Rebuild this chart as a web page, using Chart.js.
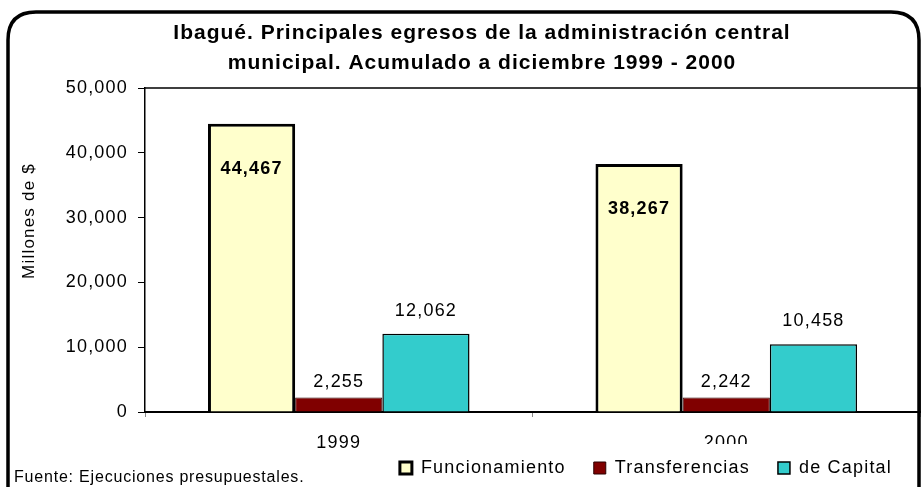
<!DOCTYPE html>
<html>
<head>
<meta charset="utf-8">
<script src="https://cdn.jsdelivr.net/npm/chart.js@4.4.1/dist/chart.umd.min.js"></script>
<style>
  html, body { margin: 0; padding: 0; background: #fff; }
</style>
</head>
<body>
<canvas id="chart" width="921" height="487"></canvas>
<script>
// chart data
const years = ['1999', '2000'];
const funcionamiento = [44467, 38267];
const transferencias = [2255, 2242];
const deCapital = [12062, 10458];
const seriesNames = ['Funcionamiento', 'Transferencias', 'de Capital'];
const yTicks = [0, 10000, 20000, 30000, 40000, 50000];
const titleLines = ['Ibagué. Principales egresos de la administración central', 'municipal. Acumulado a diciembre 1999 - 2000'];
const yTitle = 'Millones de $';
const sourceText = 'Fuente: Ejecuciones presupuestales.';

const FONT = 'Arial, "Liberation Sans", sans-serif';
const SPACING = '1.2px';
const fmt = v => v.toLocaleString('en-US');

// frame, title, plot border, value labels, source note
const decorations = {
    id: 'decorations',
    // canvas resizing resets the context, so set the spacing before measuring
    beforeUpdate(chart) {
        chart.ctx.letterSpacing = SPACING;
    },
    beforeLayout(chart) {
        chart.ctx.letterSpacing = SPACING;
    },
    beforeDraw(chart) {
        const ctx = chart.ctx;
        ctx.letterSpacing = SPACING;
        ctx.save();
        ctx.fillStyle = '#fff';
        ctx.fillRect(0, 0, chart.width, chart.height);
        ctx.restore();
    },
    afterDatasetsDraw(chart) {
        const ctx = chart.ctx;
        const area = chart.chartArea;
        ctx.save();
        // top and right edges of the plot box
        ctx.strokeStyle = '#000';
        ctx.lineWidth = 1.5;
        ctx.beginPath();
        ctx.moveTo(area.left, area.top);
        ctx.lineTo(area.right, area.top);
        ctx.lineTo(area.right, area.bottom);
        ctx.stroke();

        // value labels
        ctx.fillStyle = '#000';
        ctx.textAlign = 'center';
        ctx.textBaseline = 'middle';
        chart.data.datasets.forEach((ds, i) => {
            const meta = chart.getDatasetMeta(i);
            meta.data.forEach((bar, j) => {
                const text = fmt(ds.data[j]);
                if (i === 0) {
                    ctx.font = 'bold 18px ' + FONT;
                    ctx.fillText(text, bar.x, bar.y + 45);
                } else {
                    ctx.font = '18px ' + FONT;
                    ctx.fillText(text, bar.x, bar.y - (i === 1 ? 15 : 23));
                }
            });
        });

        // y axis title
        ctx.font = '17px ' + FONT;
        ctx.translate(29, 221);
        ctx.rotate(-Math.PI / 2);
        ctx.fillText(yTitle, 0, 0);
        ctx.restore();
    },
    afterDraw(chart) {
        const ctx = chart.ctx;
        ctx.save();
        // legend sits on a white box that hides the lower part of the axis labels
        ctx.fillStyle = '#fff';
        ctx.fillRect(380, 444, 538, 43);
        ctx.restore();
        chart.legend.draw();

        ctx.save();
        // title
        ctx.fillStyle = '#000';
        ctx.letterSpacing = '1px';
        ctx.font = 'bold 21px ' + FONT;
        ctx.textAlign = 'center';
        ctx.textBaseline = 'middle';
        ctx.fillText(titleLines[0], 482, 33);
        ctx.fillText(titleLines[1], 482, 63);

        // source note
        ctx.letterSpacing = '0.8px';
        ctx.font = '16px ' + FONT;
        ctx.textAlign = 'left';
        ctx.fillText(sourceText, 14, 478);

        // rounded frame, open at the bottom
        ctx.strokeStyle = '#000';
        ctx.lineWidth = 3.5;
        const l = 8, t = 12, r = 919, b = 540, rad = 28;
        ctx.beginPath();
        ctx.moveTo(l, b);
        ctx.lineTo(l, t + rad);
        ctx.quadraticCurveTo(l, t, l + rad, t);
        ctx.lineTo(r - rad, t);
        ctx.quadraticCurveTo(r, t, r, t + rad);
        ctx.lineTo(r, b);
        ctx.stroke();
        ctx.restore();
    }
};

new Chart(document.getElementById('chart'), {
    type: 'bar',
    data: {
        labels: years,
        datasets: [
            {
                label: seriesNames[0],
                data: funcionamiento,
                backgroundColor: '#FFFFCC',
                borderColor: '#000',
                borderWidth: 3
            },
            {
                label: seriesNames[1],
                data: transferencias,
                backgroundColor: '#800000',
                borderColor: '#2a0000',
                borderWidth: 1
            },
            {
                label: seriesNames[2],
                data: deCapital,
                backgroundColor: '#33CCCC',
                borderColor: '#000',
                borderWidth: 1.5
            }
        ]
    },
    options: {
        responsive: false,
        animation: false,
        devicePixelRatio: 1,
        categoryPercentage: 0.675,
        barPercentage: 1,
        layout: { padding: { top: 88, left: 10, right: 1, bottom: 0 } },
        plugins: {
            legend: {
                position: 'bottom',
                align: 'end',
                labels: {
                    boxWidth: 12,
                    boxHeight: 12,
                    padding: 28,
                    color: '#000',
                    font: { family: FONT, size: 18 }
                }
            },
            title: { display: false },
            tooltip: { enabled: false }
        },
        scales: {
            x: {
                grid: {
                    offset: true,
                    drawOnChartArea: false,
                    tickLength: 5,
                    color: '#888'
                },
                border: { color: '#000', width: 2 },
                ticks: {
                    color: '#000',
                    padding: 15,
                    autoSkip: false,
                    maxRotation: 0,
                    font: { family: FONT, size: 18 }
                },
                afterFit(scale) {
                    scale.height = 19;
                    // labels hang below the short axis box, so don't clip them to it
                    scale._computeLabelArea = () => undefined;
                }
            },
            y: {
                min: 0,
                max: 50000,
                afterBuildTicks(scale) { scale.ticks = yTicks.map(v => ({ value: v })); },
                grid: {
                    drawOnChartArea: false,
                    tickLength: 7,
                    color: '#000'
                },
                border: { color: '#000', width: 1.5 },
                ticks: {
                    color: '#000',
                    padding: 10,
                    font: { family: FONT, size: 18 },
                    callback: v => fmt(v)
                },
                afterFit(scale) { scale.width = 135; }
            }
        }
    },
    plugins: [decorations]
});
</script>
</body>
</html>
